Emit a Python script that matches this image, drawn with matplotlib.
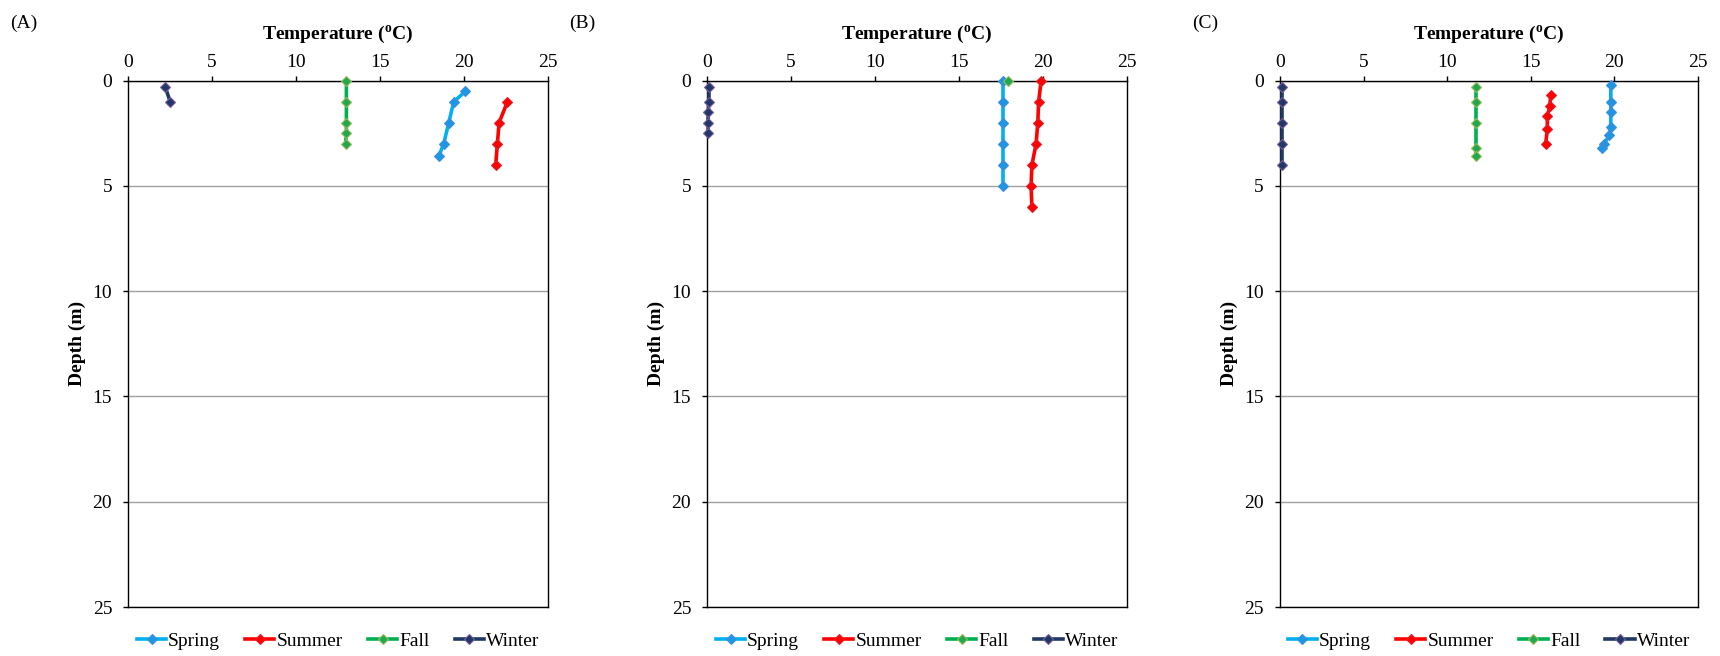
import matplotlib
matplotlib.use("Agg")
import matplotlib.pyplot as plt

plt.rcParams['font.family'] = ['Liberation Serif', 'DejaVu Serif']
plt.rcParams['mathtext.fontset'] = 'custom'
plt.rcParams['mathtext.rm'] = 'Liberation Serif'
plt.rcParams['mathtext.bf'] = 'Liberation Serif:bold'

# Panel A
a_spring_t = [20.1, 19.4, 19.1, 18.8, 18.5]
a_spring_d = [0.5, 1.0, 2.0, 3.0, 3.6]
a_summer_t = [22.6, 22.1, 22.0, 21.9]
a_summer_d = [1.0, 2.0, 3.0, 4.0]
a_fall_t = [13.0, 13.0, 13.0, 13.0, 12.95]
a_fall_d = [0.0, 1.0, 2.0, 2.5, 3.0]
a_winter_t = [2.2, 2.5]
a_winter_d = [0.3, 1.0]

# Panel B
b_spring_t = [17.6, 17.6, 17.6, 17.6, 17.6, 17.6]
b_spring_d = [0.0, 1.0, 2.0, 3.0, 4.0, 5.0]
b_summer_t = [19.9, 19.75, 19.7, 19.6, 19.35, 19.3, 19.35]
b_summer_d = [0.0, 1.0, 2.0, 3.0, 4.0, 5.0, 6.0]
b_fall_t = [17.9]
b_fall_d = [0.0]
b_winter_t = [0.1, 0.1, 0.05, 0.05, 0.05]
b_winter_d = [0.3, 1.0, 1.5, 2.0, 2.5]

# Panel C
c_spring_t = [19.8, 19.8, 19.8, 19.8, 19.7, 19.4, 19.3]
c_spring_d = [0.2, 1.0, 1.5, 2.2, 2.6, 3.0, 3.2]
c_summer_t = [16.2, 16.15, 16.0, 16.0, 15.9]
c_summer_d = [0.7, 1.2, 1.7, 2.3, 3.0]
c_fall_t = [11.75, 11.75, 11.75, 11.75, 11.75]
c_fall_d = [0.3, 1.0, 2.0, 3.2, 3.6]
c_winter_t = [0.1, 0.1, 0.1, 0.1, 0.1]
c_winter_d = [0.3, 1.0, 2.0, 3.0, 4.0]

season_names = ["Spring", "Summer", "Fall", "Winter"]
panel_labels = ["(A)", "(B)", "(C)"]
x_ticks = [0, 5, 10, 15, 20, 25]
y_ticks = [0, 5, 10, 15, 20, 25]

panels = [
    [(a_spring_t, a_spring_d), (a_summer_t, a_summer_d), (a_fall_t, a_fall_d), (a_winter_t, a_winter_d)],
    [(b_spring_t, b_spring_d), (b_summer_t, b_summer_d), (b_fall_t, b_fall_d), (b_winter_t, b_winter_d)],
    [(c_spring_t, c_spring_d), (c_summer_t, c_summer_d), (c_fall_t, c_fall_d), (c_winter_t, c_winter_d)],
]

line_colors = ["#00B0F0", "#FF0000", "#00B050", "#1F3864"]
face_colors = ["#1E96E6", "#FF0000", "#1EA850", "#1F3864"]
edge_colors = ["#3C8FD8", "#E0202A", "#9BBB59", "#7A5AA0"]

fig = plt.figure(figsize=(17.2, 6.56), dpi=100)
W, H = 1720, 656
lefts = [128.3, 707.3, 1280.0]
widths = [419.4, 419.4, 417.7]
label_x = [24, 582, 1205]
top, bottom = 80.7, 607.0

for i in range(3):
    ax = fig.add_axes([lefts[i] / W, (H - bottom) / H, widths[i] / W, (bottom - top) / H])
    for j, (t, d) in enumerate(panels[i]):
        ax.plot(t, d, color=line_colors[j], lw=2.6, marker="D", ms=5.5,
                mfc=face_colors[j], mec=edge_colors[j], mew=0.8, label=season_names[j],
                zorder=3, clip_on=False)
    ax.set_xlim(0, 25)
    ax.set_ylim(25, 0)
    ax.set_xticks(x_ticks)
    ax.set_yticks(y_ticks)
    ax.xaxis.tick_top()
    ax.xaxis.set_label_position("top")
    ax.tick_params(direction="out", length=3.6, width=1, labelsize=14, colors="black")
    ax.tick_params(axis="x", pad=3.5)
    ax.tick_params(axis="y", pad=8)
    ax.set_xlabel("Temperature ($^{\\mathbf{o}}$C)", fontsize=14, fontweight="bold", labelpad=10.5)
    ax.set_ylabel("Depth (m)", fontsize=14, fontweight="bold", labelpad=4.5)
    ax.yaxis.grid(True, color="#A0A0A0", lw=1)
    ax.set_axisbelow(True)
    for s in ax.spines.values():
        s.set_color("black")
        s.set_linewidth(1)
    ax.legend(loc="upper center", bbox_to_anchor=(0.5, -0.033), ncol=4, frameon=False,
              fontsize=14, handlelength=1.5, handletextpad=0.1, columnspacing=1.3,
              borderaxespad=0)
    fig.text(label_x[i] / W, 1 - 23 / H, panel_labels[i], fontsize=14, ha="center", va="center")

fig.savefig("out.png", dpi=100)
